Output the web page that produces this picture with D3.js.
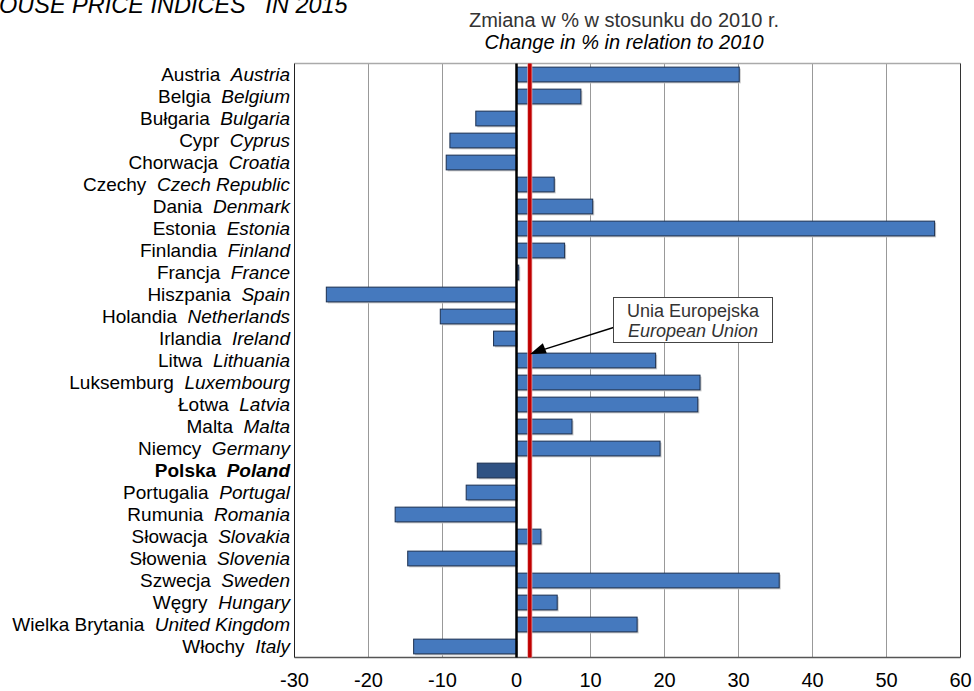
<!DOCTYPE html>
<html>
<head>
<meta charset="utf-8">
<script src="https://cdn.jsdelivr.net/npm/d3@7"></script>
<style>
  body { margin: 0; background: #fff; }
  text { font-family: "Liberation Sans", Arial, sans-serif; white-space: pre; }
</style>
</head>
<body>
<svg id="chart"></svg>
<script>
// Country names (Polish / English)
var namesPl = ["Austria", "Belgia", "Bułgaria", "Cypr", "Chorwacja", "Czechy", "Dania", "Estonia",
  "Finlandia", "Francja", "Hiszpania", "Holandia", "Irlandia", "Litwa", "Luksemburg", "Łotwa",
  "Malta", "Niemcy", "Polska", "Portugalia", "Rumunia", "Słowacja", "Słowenia", "Szwecja",
  "Węgry", "Wielka Brytania", "Włochy"];
var namesEn = ["Austria", "Belgium", "Bulgaria", "Cyprus", "Croatia", "Czech Republic", "Denmark", "Estonia",
  "Finland", "France", "Spain", "Netherlands", "Ireland", "Lithuania", "Luxembourg", "Latvia",
  "Malta", "Germany", "Poland", "Portugal", "Romania", "Slovakia", "Slovenia", "Sweden",
  "Hungary", "United Kingdom", "Italy"];

// change in % vs 2010
var values = [30.1, 8.7, -5.5, -9.0, -9.5, 5.1, 10.3, 56.5, 6.5, 0.3, -25.7, -10.3, -3.1, 18.8,
  24.8, 24.5, 7.5, 19.4, -5.3, -6.8, -16.4, 3.3, -14.7, 35.5, 5.5, 16.3, -13.9];

var euValue = 1.8;
var xTicks = [-30, -20, -10, 0, 10, 20, 30, 40, 50, 60];

var width = 974, height = 691;
var plotLeft = 294.5, plotRight = 960.5, plotTop = 63.5, plotBottom = 657.5;

var svg = d3.select("#chart")
  .attr("width", width)
  .attr("height", height);

var data = namesPl.map(function(d, i) {
  return {pl: d, en: namesEn[i], value: values[i]};
});

var xScale = d3.scaleLinear()
  .domain([-30, 60])
  .range([plotLeft, plotRight]);

var yScale = d3.scaleBand()
  .domain(namesPl)
  .range([plotTop, plotBottom])
  .paddingInner(0.33)
  .paddingOuter(0.165);

// Title (cut off on the left in the original)
var title = svg.append("text")
  .attr("y", 13)
  .style("font-size", "23.5px")
  .style("font-style", "italic")
  .text("HOUSE PRICE INDICES   IN 2015");
var hTmp = svg.append("text").style("font-size", "23.5px").style("font-style", "italic").text("H");
var hWidth = hTmp.node().getComputedTextLength();
hTmp.remove();
title.attr("x", -hWidth - 1);

// Subtitle
svg.append("text")
  .attr("x", 624)
  .attr("y", 27)
  .attr("text-anchor", "middle")
  .style("font-size", "20px")
  .style("fill", "#333")
  .text("Zmiana w % w stosunku do 2010 r.");

svg.append("text")
  .attr("x", 624)
  .attr("y", 49)
  .attr("text-anchor", "middle")
  .style("font-size", "20px")
  .style("font-style", "italic")
  .text("Change in % in relation to 2010");

// Gridlines
svg.append("g")
  .selectAll("line")
  .data(xTicks.filter(function(d) { return d != 0 && d != -30 && d != 60; }))
  .enter().append("line")
  .attr("x1", function(d) { return xScale(d); })
  .attr("x2", function(d) { return xScale(d); })
  .attr("y1", plotTop)
  .attr("y2", plotBottom)
  .attr("stroke", "#999")
  .attr("stroke-width", 1);

// Plot frame
svg.append("line")
  .attr("x1", plotLeft).attr("x2", plotRight).attr("y1", plotTop).attr("y2", plotTop)
  .attr("stroke", "#aaa").attr("stroke-width", 1.5);
svg.append("line")
  .attr("x1", plotRight).attr("x2", plotRight).attr("y1", plotTop).attr("y2", plotBottom)
  .attr("stroke", "#333").attr("stroke-width", 1);
svg.append("line")
  .attr("x1", plotLeft).attr("x2", plotRight).attr("y1", plotBottom).attr("y2", plotBottom)
  .attr("stroke", "#555").attr("stroke-width", 1.5);
svg.append("line")
  .attr("x1", plotLeft).attr("x2", plotLeft).attr("y1", plotTop).attr("y2", plotBottom)
  .attr("stroke", "#222").attr("stroke-width", 1);

// Bar shadows
svg.append("g")
  .selectAll("rect")
  .data(data)
  .enter().append("rect")
  .attr("x", function(d) { return Math.min(xScale(0), xScale(d.value)) + 1.5; })
  .attr("y", function(d) { return yScale(d.pl) + 1.5; })
  .attr("width", function(d) { return Math.abs(xScale(d.value) - xScale(0)); })
  .attr("height", yScale.bandwidth())
  .attr("fill", "#c8c8c8");

// Bars
svg.append("g")
  .selectAll("rect")
  .data(data)
  .enter().append("rect")
  .attr("x", function(d) { return Math.min(xScale(0), xScale(d.value)); })
  .attr("y", function(d) { return yScale(d.pl); })
  .attr("width", function(d) { return Math.abs(xScale(d.value) - xScale(0)); })
  .attr("height", yScale.bandwidth())
  .attr("fill", function(d) { return d.pl == "Polska" ? "#2f5283" : "#4579be"; })
  .attr("stroke", "#1c3050")
  .attr("stroke-width", 1);

// Zero line
svg.append("line")
  .attr("x1", xScale(0)).attr("x2", xScale(0))
  .attr("y1", plotTop).attr("y2", plotBottom)
  .attr("stroke", "#000").attr("stroke-width", 2.5);

// EU line
svg.append("line")
  .attr("x1", xScale(euValue)).attr("x2", xScale(euValue))
  .attr("y1", plotTop).attr("y2", plotBottom)
  .attr("stroke", "#e8a0a0").attr("stroke-width", 5);
svg.append("line")
  .attr("x1", xScale(euValue)).attr("x2", xScale(euValue))
  .attr("y1", plotTop).attr("y2", plotBottom)
  .attr("stroke", "#c00000").attr("stroke-width", 3.5);

// Category labels
var labels = svg.append("g")
  .selectAll("text")
  .data(data)
  .enter().append("text")
  .attr("x", 290)
  .attr("y", function(d) { return yScale(d.pl) + yScale.bandwidth() / 2 + 6.5; })
  .attr("text-anchor", "end")
  .style("font-size", "19px")
  .style("font-weight", function(d) { return d.pl == "Polska" ? "bold" : "normal"; });

labels.append("tspan").text(function(d) { return d.pl + "  "; });
labels.append("tspan").style("font-style", "italic").text(function(d) { return d.en; });

// X axis tick labels
svg.append("g")
  .selectAll("text")
  .data(xTicks)
  .enter().append("text")
  .attr("x", function(d) { return xScale(d); })
  .attr("y", 687)
  .attr("text-anchor", "middle")
  .style("font-size", "20px")
  .text(function(d) { return d; });

// Annotation
var boxX = 613.5, boxY = 297.5, boxW = 159, boxH = 45;
var arrowY = yScale("Litwa") + 1;

svg.append("line")
  .attr("x1", boxX).attr("y1", boxY + 30)
  .attr("x2", xScale(euValue) + 12).attr("y2", arrowY - 4)
  .attr("stroke", "#000").attr("stroke-width", 1.5);

svg.append("path")
  .attr("d", d3.line()([
    [xScale(euValue), arrowY],
    [xScale(euValue) + 13, arrowY - 11],
    [xScale(euValue) + 17, arrowY - 1]
  ]))
  .attr("fill", "#000");

svg.append("rect")
  .attr("x", boxX).attr("y", boxY)
  .attr("width", boxW).attr("height", boxH)
  .attr("fill", "#fff")
  .attr("stroke", "#444").attr("stroke-width", 1);

svg.append("text")
  .attr("x", boxX + boxW / 2).attr("y", boxY + 19)
  .attr("text-anchor", "middle")
  .style("font-size", "18px")
  .style("fill", "#333")
  .text("Unia Europejska");

svg.append("text")
  .attr("x", boxX + boxW / 2).attr("y", boxY + 39)
  .attr("text-anchor", "middle")
  .style("font-size", "18px")
  .style("font-style", "italic")
  .style("fill", "#333")
  .text("European Union");
</script>
</body>
</html>
